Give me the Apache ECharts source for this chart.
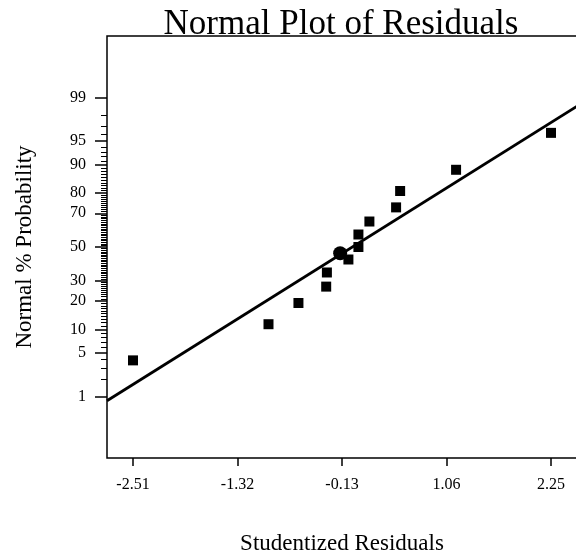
<!DOCTYPE html>
<html>
<head>
<meta charset="utf-8">
<script src="https://cdn.jsdelivr.net/npm/echarts@6/dist/echarts.min.js"></script>
<style>
  html, body { margin: 0; padding: 0; background: #fff; }
  #chart { width: 576px; height: 558px; }
</style>
</head>
<body>
<div id="chart"></div>
<script>
// Studentized residuals with their normal plotting positions (percent)
const residuals = [-2.51, -0.967, -0.626, -0.310, -0.302, -0.057, 0.057, 0.057, 0.182, 0.486, 0.532, 1.169, 2.25];
const normalPct = [3.9, 11.5, 19.2, 26.9, 34.6, 42.3, 50.0, 57.7, 65.4, 73.1, 80.8, 88.5, 96.2];

// Highlighted run
const markedResidual = [-0.151];
const markedPct = [46.1];

// Reference line: residual = mean + sd * z
const fitMean = -0.012;
const fitSd = 1.169;

// Axis ranges (residual units and normal score units)
const xRange = [-2.806, 2.546];
const zRange = [-3.28, 3.28];

// Tick labels
const xTicks = [-2.51, -1.32, -0.13, 1.06, 2.25];
const yMajorPct = [1, 5, 10, 20, 30, 50, 70, 80, 90, 95, 99];
const yMinorPct = [2, 3, 4, 6, 7, 8, 9];
for (let p = 11; p <= 89; p++) {
  if (yMajorPct.indexOf(p) < 0) yMinorPct.push(p);
}
yMinorPct.push(91, 92, 93, 94, 96, 97, 98);

// Inverse of the standard normal CDF (Acklam's approximation)
function probit(p) {
  const a = [-3.969683028665376e+01, 2.209460984245205e+02, -2.759285104469687e+02,
             1.383577518672690e+02, -3.066479806614716e+01, 2.506628277459239e+00];
  const b = [-5.447609879822406e+01, 1.615858368580409e+02, -1.556989798598866e+02,
             6.680131188771972e+01, -1.328068155288572e+01];
  const c = [-7.784894002430293e-03, -3.223964580411365e-01, -2.400758277161838e+00,
             -2.549732539343734e+00, 4.374664141464968e+00, 2.938163982698783e+00];
  const d = [7.784695709041462e-03, 3.224671290700398e-01, 2.445134137142996e+00,
             3.754408661907416e+00];
  const pl = 0.02425, ph = 1 - pl;
  let q, r;
  if (p < pl) {
    q = Math.sqrt(-2 * Math.log(p));
    return (((((c[0]*q+c[1])*q+c[2])*q+c[3])*q+c[4])*q+c[5]) /
           ((((d[0]*q+d[1])*q+d[2])*q+d[3])*q+1);
  }
  if (p > ph) {
    q = Math.sqrt(-2 * Math.log(1 - p));
    return -(((((c[0]*q+c[1])*q+c[2])*q+c[3])*q+c[4])*q+c[5]) /
            ((((d[0]*q+d[1])*q+d[2])*q+d[3])*q+1);
  }
  q = p - 0.5; r = q * q;
  return (((((a[0]*r+a[1])*r+a[2])*r+a[3])*r+a[4])*r+a[5])*q /
         (((((b[0]*r+b[1])*r+b[2])*r+b[3])*r+b[4])*r+1);
}

const majorZ = yMajorPct.map(p => probit(p / 100));
const minorZ = yMinorPct.map(p => probit(p / 100));

function pctLabel(v) {
  let best = 0;
  for (let i = 1; i < majorZ.length; i++) {
    if (Math.abs(majorZ[i] - v) < Math.abs(majorZ[best] - v)) best = i;
  }
  return String(yMajorPct[best]);
}

const pointData = residuals.map((x, i) => [x, probit(normalPct[i] / 100)]);
const markedData = markedResidual.map((x, i) => [x, probit(markedPct[i] / 100)]);
const lineData = xRange.map(x => [x, (x - fitMean) / fitSd]);

const FONT = '"Liberation Serif", "Times New Roman", serif';

const chart = echarts.init(document.getElementById('chart'), null, { renderer: 'canvas' });
chart.setOption({
  animation: false,
  backgroundColor: '#fff',
  title: {
    text: 'Normal Plot of Residuals',
    left: 336,
    top: 2,
    textAlign: 'center',
    textStyle: { fontFamily: FONT, fontSize: 35, fontWeight: 'normal', color: '#000' }
  },
  grid: {
    left: 107, top: 36, width: 470, height: 422,
    show: true, borderColor: '#000', borderWidth: 1.5,
    containLabel: false, outerBoundsMode: 'none'
  },
  xAxis: {
    type: 'value',
    min: xRange[0], max: xRange[1],
    name: 'Studentized Residuals',
    nameLocation: 'middle',
    nameGap: 74,
    nameMoveOverlap: false,
    nameTextStyle: { fontFamily: FONT, fontSize: 23, color: '#000' },
    axisLine: { show: false, onZero: false },
    splitLine: { show: false },
    axisTick: {
      show: true, inside: false, length: 8,
      customValues: xTicks,
      lineStyle: { color: '#000', width: 1.5 }
    },
    axisLabel: {
      customValues: xTicks,
      margin: 19,
      fontFamily: FONT, fontSize: 16, color: '#000',
      formatter: v => v.toFixed(2)
    }
  },
  yAxis: [{
    type: 'value',
    min: zRange[0], max: zRange[1],
    name: 'Normal % Probability',
    nameLocation: 'middle',
    nameGap: 71,
    nameRotate: 90,
    nameMoveOverlap: false,
    nameTextStyle: { fontFamily: FONT, fontSize: 23, color: '#000' },
    axisLine: { show: false, onZero: false },
    splitLine: { show: false },
    axisTick: {
      show: true, inside: false, length: 12,
      customValues: majorZ,
      lineStyle: { color: '#000', width: 1.5 }
    },
    axisLabel: {
      customValues: majorZ,
      margin: 21,
      fontFamily: FONT, fontSize: 16, color: '#000',
      formatter: v => pctLabel(v)
    }
  }, {
    type: 'value',
    position: 'left',
    min: zRange[0], max: zRange[1],
    axisLine: { show: false, onZero: false },
    splitLine: { show: false },
    axisTick: {
      show: true, inside: false, length: 6,
      customValues: minorZ,
      lineStyle: { color: '#000', width: 1 }
    },
    axisLabel: { show: false }
  }],
  series: [{
    type: 'line',
    data: lineData,
    showSymbol: false,
    symbol: 'none',
    lineStyle: { color: '#000', width: 2.8 },
    silent: true
  }, {
    type: 'scatter',
    data: pointData,
    symbol: 'rect',
    symbolSize: 10,
    itemStyle: { color: '#000', opacity: 1 }
  }, {
    type: 'scatter',
    data: markedData,
    symbol: 'circle',
    symbolSize: 14,
    itemStyle: { color: '#000', opacity: 1 }
  }]
});
</script>
</body>
</html>
